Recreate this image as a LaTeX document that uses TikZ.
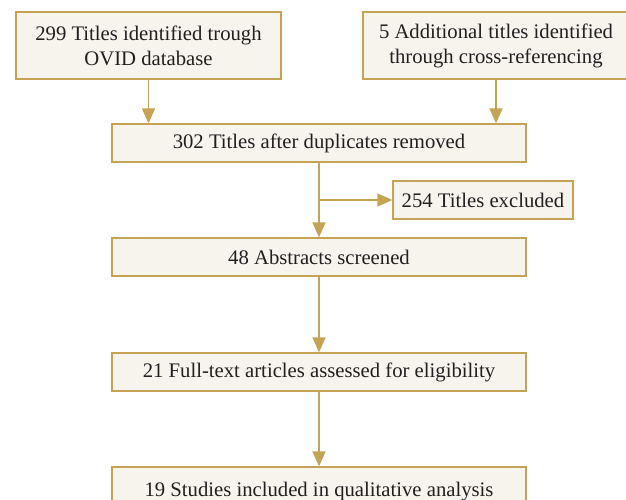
\documentclass[tikz,border=0pt]{standalone}
\usepackage{fontspec}
\setmainfont{Liberation Serif}
\usetikzlibrary{arrows.meta}
\definecolor{goldline}{HTML}{C4A354}
\definecolor{boxfill}{HTML}{F7F4EE}
\definecolor{inktext}{HTML}{231F20}
\tikzset{
  flowbox/.style={draw=goldline, fill=boxfill, line width=1.3pt, inner sep=0pt,
    text=inktext, align=center, font=\fontsize{20.7}{25}\selectfont},
  flowarrow/.style={draw=goldline, line width=1.4pt,
    -{Triangle[length=15pt,width=13pt]}},
  flowline/.style={draw=goldline, line width=1.4pt}
}
\begin{document}
\begin{tikzpicture}[x=1pt,y=-1pt]
\useasboundingbox (0,0) rectangle (626,499);
\node[flowbox, minimum width=265pt, minimum height=67pt] (ovid) at (148.5,45.5)
  {299 Titles identified trough\\OVID database};
\node[flowbox, minimum width=266pt, minimum height=67pt] (cross) at (496,45.5)
  {5 Additional titles identified\\through cross-referencing};
\node[flowbox, minimum width=414pt, minimum height=38pt] (dup) at (319,143)
  {302 Titles after duplicates removed};
\node[flowbox, minimum width=180pt, minimum height=38pt] (excl) at (483,200)
  {254 Titles excluded};
\node[flowbox, minimum width=414pt, minimum height=38pt] (abs) at (319,257)
  {48 Abstracts screened};
\node[flowbox, minimum width=414pt, minimum height=38pt] (full) at (319,372)
  {21 Full-text articles assessed for eligibility};
\node[flowbox, minimum width=414pt, minimum height=50pt] (incl) at (319,492)
  {\raisebox{6pt}{19 Studies included in qualitative analysis}};
\coordinate (split) at (dup.south |- excl.west);
\draw[flowarrow] (ovid.south) -- (ovid.south |- dup.north);
\draw[flowarrow] (cross.south) -- (cross.south |- dup.north);
\draw[flowarrow] (dup.south) -- (abs.north);
\draw[flowarrow] (split) -- (excl.west);
\draw[flowarrow] (abs.south) -- (full.north);
\draw[flowarrow] (full.south) -- (incl.north);
\end{tikzpicture}
\end{document}
